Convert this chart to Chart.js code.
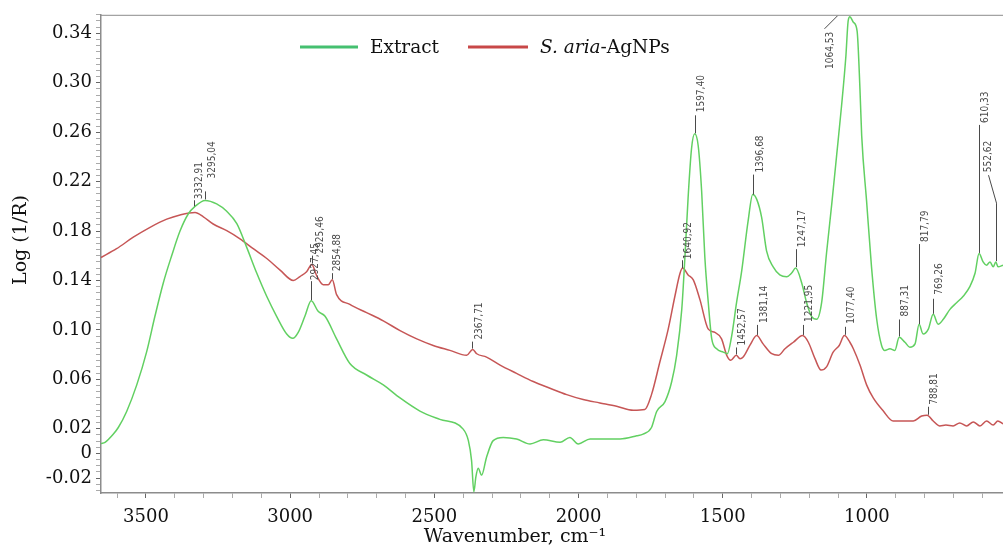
<!DOCTYPE html>
<html><head><meta charset="utf-8">
<script src="https://cdn.jsdelivr.net/npm/chart.js@4"></script>
<style>html,body{margin:0;padding:0;background:#fff}canvas{display:block}</style>
</head><body>
<canvas id="c" width="1003" height="550"></canvas>
<script>
const xTickLabels = ['3500','3000','2500','2000','1500','1000'];
const yTickLabels = ['0.34','0.30','0.26','0.22','0.18','0.14','0.10','0.06','0.02','0','-0.02'];
const seriesNames = ['Extract', 'S. aria-AgNPs'];
const xTitle = 'Wavenumber, cm⁻¹';
const yTitle = 'Log (1/R)';

const extractWn = [3656,3642,3613,3596,3567,3532,3498,3469,3440,3411,3382,3353,3330,3295,3255,3220,3185,3151,3116,3081,3047,3012,2991,2972,2949,2927,2903,2879,2839,2793,2735,2677,2619,2550,2481,2400,2382,2371,2363,2356,2348,2336,2319,2296,2261,2215,2168,2122,2064,2030,2001,1960,1903,1856,1798,1776,1747,1729,1700,1677,1660,1642,1631,1620,1608,1597,1585,1573,1562,1550,1538,1521,1498,1484,1469,1452,1434,1412,1396,1382,1365,1348,1325,1302,1278,1261,1247,1226,1209,1192,1174,1157,1140,1122,1105,1088,1073,1065,1059,1047,1034,1024,1018,1001,984,966,949,938,920,903,888,868,851,833,819,805,787,770,753,735,712,689,666,643,625,611,597,585,573,562,553,545,528];
const extractVal = [0.008,0.009,0.0157,0.021,0.034,0.0555,0.082,0.111,0.138,0.160,0.180,0.194,0.200,0.2048,0.202,0.196,0.186,0.167,0.146,0.127,0.111,0.0967,0.0932,0.098,0.111,0.1235,0.115,0.111,0.0927,0.0728,0.0635,0.0555,0.0449,0.0343,0.0276,0.0197,0.0104,-0.0056,-0.031,-0.019,-0.012,-0.0175,-0.003,0.0104,0.013,0.0117,0.0077,0.011,0.009,0.013,0.0077,0.0117,0.0117,0.0117,0.0143,0.0157,0.021,0.034,0.042,0.058,0.079,0.1166,0.159,0.207,0.247,0.2587,0.249,0.212,0.159,0.122,0.0927,0.0847,0.082,0.0807,0.095,0.122,0.148,0.188,0.2096,0.2056,0.191,0.164,0.151,0.1445,0.143,0.146,0.150,0.138,0.122,0.111,0.1086,0.122,0.162,0.2016,0.241,0.281,0.321,0.350,0.3535,0.349,0.342,0.2946,0.257,0.204,0.151,0.1086,0.0874,0.0834,0.0847,0.0834,0.094,0.09,0.086,0.0887,0.1046,0.0967,0.1006,0.1126,0.1046,0.1086,0.1166,0.122,0.1272,0.135,0.1458,0.1618,0.155,0.1524,0.155,0.151,0.155,0.151,0.1524];

const agnpWn = [3656,3602,3544,3486,3428,3382,3330,3301,3267,3220,3174,3128,3081,3035,2989,2966,2943,2925,2908,2885,2868,2854,2839,2793,2735,2677,2619,2561,2504,2446,2388,2367,2353,2319,2272,2215,2157,2099,2041,1984,1926,1868,1810,1770,1747,1718,1689,1666,1648,1639,1620,1602,1579,1550,1527,1504,1486,1472,1453,1440,1429,1406,1382,1360,1330,1307,1284,1255,1223,1203,1180,1159,1140,1117,1096,1078,1059,1047,1024,1001,978,943,909,874,839,810,791,770,747,726,701,678,654,631,608,585,562,546,528];
const agnpVal = [0.1586,0.1657,0.175,0.183,0.1896,0.193,0.195,0.1915,0.1857,0.1803,0.1737,0.1657,0.1578,0.1484,0.140,0.1432,0.147,0.153,0.1438,0.1365,0.1365,0.1405,0.1285,0.1206,0.114,0.1073,0.0994,0.0927,0.0874,0.0834,0.0794,0.0842,0.0807,0.078,0.0715,0.0648,0.0582,0.0528,0.0476,0.0436,0.0409,0.0382,0.035,0.0356,0.0476,0.074,0.1006,0.127,0.1458,0.150,0.1445,0.1405,0.1245,0.1006,0.098,0.0927,0.0794,0.0754,0.0794,0.0767,0.078,0.0874,0.0954,0.0887,0.0807,0.0794,0.0847,0.090,0.0954,0.090,0.0767,0.0675,0.0701,0.082,0.0874,0.0954,0.090,0.0847,0.0715,0.0555,0.0449,0.0343,0.0263,0.0263,0.0263,0.0303,0.031,0.0263,0.0223,0.023,0.0223,0.0247,0.0223,0.0255,0.0223,0.0263,0.023,0.0263,0.0239];

const peakLabels = ['3332,91','3295,04','2927,45','2925,46','2854,88','2367,71','1640,92','1597,40','1452,57','1396,68','1381,14','1247,17','1221,95','1077,40','1064,53','887,31','817,79','769,26','788,81','610,33','552,62'];
const peakSeries = [0,0,0,1,1,1,1,0,1,0,1,0,1,1,0,0,0,0,1,0,0];

// layout of the peak markers (leader length, text gap, text offset)
const peakStyle = [
 {len:6,gap:1,dx:5},{len:8,gap:13,dx:7},{len:19,gap:1,dx:4},{len:8,gap:2,dx:8},{len:6,gap:2,dx:5},
 {len:7,gap:2,dx:7},{len:8,gap:1,dx:6},{len:18,gap:3,dx:6},{len:7,gap:2,dx:6},{len:20,gap:2,dx:7},
 {len:10,gap:2,dx:7},{len:18,gap:2,dx:6},{len:10,gap:3,dx:6},{len:8,gap:3,dx:6},{hang:true},
 {len:17,gap:3,dx:6},{len:80,gap:2,dx:6},{len:15,gap:4,dx:6},{len:8,gap:2,dx:6},{len:128,gap:2,dx:6},
 {len:58,gap:3,jog:[-8,-28]}
];

const SERIF = "'DejaVu Serif', serif";
const annFont = "10px 'Liberation Sans Narrow', 'DejaVu Sans Condensed', 'Liberation Sans', sans-serif";
const curveGreen = '#62d062', curveRed = '#c65656';
const legGreen = '#45c070', legRed = '#c84848';

function interp(wns, vals, w) {
  for (let i = 0; i < wns.length - 1; i++) {
    if (w <= wns[i] && w >= wns[i+1]) {
      const t = (wns[i] - w) / (wns[i] - wns[i+1]);
      return vals[i] + t * (vals[i+1] - vals[i]);
    }
  }
  return vals[vals.length - 1];
}
function vText(ctx, txt, cx, y, align) {
  ctx.save(); ctx.translate(cx, y); ctx.rotate(-Math.PI/2);
  ctx.textAlign = align || 'left'; ctx.textBaseline = 'middle';
  ctx.fillText(txt, 0, 0); ctx.restore();
}

const xTickVals = xTickLabels.map(Number);
const yTickVals = yTickLabels.map(Number);

const overlay = {
  id: 'overlay',
  afterDatasetsDraw(chart) {
    const {ctx, chartArea, scales: {x, y}} = chart;
    ctx.save();
    ctx.strokeStyle = '#8c8c8c'; ctx.lineWidth = 1;
    ctx.beginPath(); ctx.moveTo(chartArea.left, chartArea.top + 0.5); ctx.lineTo(chartArea.right, chartArea.top + 0.5); ctx.stroke();

    ctx.font = annFont; ctx.fillStyle = '#4a4a4a'; ctx.strokeStyle = '#4a4a4a'; ctx.lineWidth = 1;
    peakLabels.forEach((lab, i) => {
      const wn = parseFloat(lab.replace(',', '.'));
      const val = peakSeries[i] === 0 ? interp(extractWn, extractVal, wn) : interp(agnpWn, agnpVal, wn);
      const px = Math.round(x.getPixelForValue(wn)) + 0.5;
      const py = Math.max(y.getPixelForValue(val), chartArea.top + 1) - 1;
      const st = peakStyle[i];
      ctx.beginPath();
      if (st.hang) {
        const t = chartArea.top;
        ctx.moveTo(px - 11, t + 1); ctx.lineTo(px - 24, t + 14); ctx.stroke();
        vText(ctx, lab, px - 18, t + 17, 'right');
      } else if (st.jog) {
        const ty = py - st.len;
        ctx.moveTo(px, py); ctx.lineTo(px, ty); ctx.lineTo(px + st.jog[0], ty + st.jog[1]); ctx.stroke();
        vText(ctx, lab, px + st.jog[0], ty + st.jog[1] - st.gap);
      } else {
        ctx.moveTo(px, py); ctx.lineTo(px, py - st.len); ctx.stroke();
        vText(ctx, lab, px + st.dx, py - st.len - st.gap);
      }
    });

    // legend
    ctx.lineWidth = 3;
    ctx.strokeStyle = legGreen; ctx.beginPath(); ctx.moveTo(300, 47); ctx.lineTo(358, 47); ctx.stroke();
    ctx.strokeStyle = legRed; ctx.beginPath(); ctx.moveTo(468, 47); ctx.lineTo(528, 47); ctx.stroke();
    ctx.fillStyle = '#111'; ctx.textBaseline = 'middle'; ctx.textAlign = 'left';
    ctx.font = '18.5px ' + SERIF;
    ctx.fillText(seriesNames[0], 370, 48);
    const cut = seriesNames[1].indexOf('-');
    const ital = seriesNames[1].slice(0, cut), rest = seriesNames[1].slice(cut);
    ctx.font = 'italic 18.5px ' + SERIF;
    ctx.fillText(ital, 540, 48);
    const w = ctx.measureText(ital).width;
    ctx.font = '18.5px ' + SERIF;
    ctx.fillText(rest, 540 + w, 48);

    // axis titles
    ctx.font = '19px ' + SERIF; ctx.fillStyle = '#111';
    ctx.textAlign = 'center'; ctx.textBaseline = 'middle';
    ctx.fillText(xTitle, 515, 537);
    ctx.save(); ctx.translate(21, 240); ctx.rotate(-Math.PI/2);
    ctx.fillText(yTitle, 0, 0); ctx.restore();
    ctx.restore();
  }
};

new Chart(document.getElementById('c'), {
  type: 'line',
  data: {
    datasets: [
      { label: seriesNames[0], data: extractWn.map((w, i) => ({x: w, y: extractVal[i]})),
        borderColor: curveGreen, borderWidth: 1.5, pointRadius: 0, cubicInterpolationMode: 'monotone' },
      { label: seriesNames[1], data: agnpWn.map((w, i) => ({x: w, y: agnpVal[i]})),
        borderColor: curveRed, borderWidth: 1.5, pointRadius: 0, cubicInterpolationMode: 'monotone' }
    ]
  },
  options: {
    responsive: false, animation: false,
    layout: { padding: { top: 8, right: 0, left: 0, bottom: 0 } },
    plugins: { legend: { display: false }, tooltip: { enabled: false } },
    scales: {
      x: {
        type: 'linear', reverse: true, min: 528, max: 3656,
        afterFit: s => { s.height = 57; },
        afterBuildTicks: s => { const t = []; for (let v = 600; v <= 3600; v += 100) t.push({value: v}); s.ticks = t; },
        grid: { drawOnChartArea: false, tickLength: 5,
          tickColor: c => (c.tick && xTickVals.includes(c.tick.value)) ? '#666' : '#aaa' },
        border: { display: true, color: '#8c8c8c', width: 1.5 },
        ticks: { autoSkip: false, maxRotation: 0, padding: 9, color: '#111',
          font: { family: SERIF, size: 18 },
          callback: v => { const k = xTickVals.indexOf(v); return k >= 0 ? xTickLabels[k] : ''; } },
        title: { display: false }
      },
      y: {
        type: 'linear', min: -0.032, max: 0.355,
        afterFit: s => { s.width = 101; },
        afterBuildTicks: s => { const t = []; for (let k = -6; k <= 71; k++) t.push({value: Math.round(k * 5) / 1000}); s.ticks = t; },
        grid: { drawOnChartArea: false, tickLength: 5,
          tickColor: c => (c.tick && yTickVals.some(v => Math.abs(v - c.tick.value) < 1e-9)) ? '#666' : '#aaa' },
        border: { display: true, color: '#8c8c8c', width: 1.5 },
        ticks: { autoSkip: false, padding: 4, color: '#111',
          font: { family: SERIF, size: 18 },
          callback: v => { const k = yTickVals.findIndex(t => Math.abs(t - v) < 1e-9); return k >= 0 ? yTickLabels[k] : ''; } },
        title: { display: false }
      }
    }
  },
  plugins: [overlay]
});
</script>
</body></html>
